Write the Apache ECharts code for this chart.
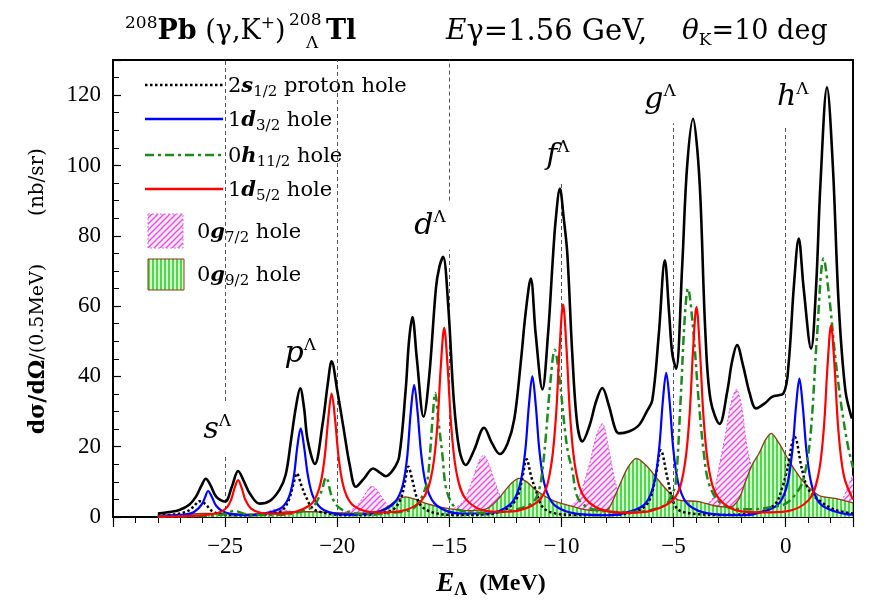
<!DOCTYPE html>
<html><head><meta charset="utf-8">
<script src="https://cdn.jsdelivr.net/npm/echarts@6/dist/echarts.min.js"></script>
<style>html,body{margin:0;padding:0;background:#fff}#c{width:869px;height:609px}</style>
</head><body><div id="c"></div>
<script>
// ---------- data (E_Lambda in MeV, cross section in nb/sr per 0.5 MeV) ----------
const xTickValues = [-25, -20, -15, -10, -5, 0];
const yTickValues = [0, 20, 40, 60, 80, 100, 120];

const totalCurve = [[-28.0,1.0],[-27.5,1.4],[-27.04,2.0],[-26.6,3.5],[-26.3,5.8],[-26.05,9.0],[-25.86,10.9],[-25.65,9.0],[-25.4,5.8],[-25.0,4.4],[-24.7,8.6],[-24.42,13.1],[-24.15,10.0],[-23.9,6.7],[-23.47,3.8],[-23.0,4.6],[-22.58,7.7],[-22.3,12],[-22.06,21.9],[-21.85,31],[-21.65,36.6],[-21.48,31],[-21.32,21.9],[-21.0,15.1],[-20.65,26.6],[-20.42,38],[-20.25,44.3],[-20.0,36],[-19.73,25.7],[-19.43,14.3],[-19.17,8.6],[-18.8,11],[-18.4,13.8],[-18.1,12.6],[-17.83,11.6],[-17.5,13.5],[-17.24,17.1],[-16.95,36],[-16.8,50],[-16.65,56.9],[-16.45,45],[-16.15,28.5],[-15.9,40],[-15.6,65],[-15.45,71],[-15.28,74.0],[-15.05,60],[-14.8,33],[-14.55,19],[-14.27,14.8],[-13.9,19],[-13.45,25.4],[-13.1,21],[-12.75,17.9],[-12.4,21],[-12.1,28],[-11.8,45],[-11.6,58],[-11.37,67.8],[-11.15,52],[-10.85,36.3],[-10.6,52],[-10.4,72],[-10.26,84.4],[-10.07,93.4],[-9.9,85],[-9.74,74.9],[-9.52,46.5],[-9.3,26.6],[-9.07,21.5],[-8.75,26],[-8.45,33],[-8.18,36.7],[-7.9,32],[-7.6,25],[-7.44,23.8],[-7.0,24.3],[-6.55,26.1],[-6.2,30],[-5.95,33.2],[-5.66,52],[-5.39,73.0],[-5.2,58],[-5.06,46.5],[-4.89,42.2],[-4.62,71],[-4.4,99.5],[-4.13,113.3],[-3.95,105],[-3.8,90],[-3.58,52],[-3.35,33.2],[-2.95,26.5],[-2.6,36],[-2.4,44],[-2.17,48.9],[-1.9,43],[-1.6,35],[-1.32,30.9],[-0.9,32.5],[-0.61,34.2],[-0.09,35.3],[0.13,43.7],[0.36,65.4],[0.58,79.2],[0.8,65],[1.13,47.9],[1.35,65],[1.55,95],[1.84,122.2],[2.1,100],[2.36,60.7],[2.66,36],[2.95,28]];

const proton2s = [[-28,0.4],[-27.2,0.8],[-26.7,1.6],[-26.4,3.0],[-26.15,4.5],[-25.9,3.8],[-25.6,1.8],[-25.2,0.8],[-24.5,0.5],[-23.5,0.6],[-22.8,1.1],[-22.43,2.0],[-22.15,5.0],[-21.95,9.5],[-21.8,12.4],[-21.6,9.0],[-21.4,5.8],[-21.1,2.5],[-20.6,1.2],[-19.8,0.6],[-18.8,0.6],[-17.9,1.2],[-17.45,2.4],[-17.15,5.5],[-16.98,10],[-16.83,14.3],[-16.65,10.5],[-16.45,5.5],[-16.2,2.8],[-15.7,1.2],[-14.8,0.6],[-13.5,0.7],[-12.6,1.8],[-12.04,4.8],[-11.8,9.5],[-11.55,16.4],[-11.35,11.5],[-11.15,7.7],[-10.85,2.9],[-10.4,1.2],[-9.5,0.6],[-7.8,0.6],[-6.6,1.8],[-6.1,4.5],[-5.8,11.5],[-5.57,19.0],[-5.29,11.5],[-5.05,5.0],[-4.77,2.0],[-4.2,1.0],[-3.0,0.6],[-1.5,1.0],[-0.5,3.5],[-0.15,8.5],[0.06,13.4],[0.4,22.8],[0.73,13.4],[1.0,8.0],[1.47,4.8],[2.21,2.0],[3.0,1.0]];

const hole1d32 = [[-28,0.3],[-27,0.6],[-26.5,1.1],[-26.2,2.4],[-26.0,4.0],[-25.9,5.5],[-25.76,7.4],[-25.6,5.8],[-25.4,3.2],[-25.1,1.6],[-24.7,0.8],[-24,0.5],[-23.5,0.7],[-22.6,2.2],[-22.2,5.0],[-21.95,11],[-21.78,20],[-21.63,25.2],[-21.48,20],[-21.3,11.5],[-21.05,5.4],[-20.6,2.0],[-19.6,0.7],[-18.6,0.9],[-17.6,3.2],[-17.15,7.5],[-16.9,16],[-16.72,30],[-16.57,37.5],[-16.42,30],[-16.24,17],[-15.99,8],[-15.55,3.2],[-14.5,1.0],[-13.3,1.0],[-12.3,3.5],[-11.88,8.5],[-11.63,18],[-11.45,32],[-11.3,40],[-11.15,32],[-10.97,18],[-10.72,8.4],[-10.3,3.3],[-9.3,0.9],[-8.0,0.5],[-7.33,0.9],[-6.33,3.4],[-5.91,8.6],[-5.66,18.5],[-5.48,33],[-5.33,41],[-5.18,33],[-5.0,18.5],[-4.75,8.6],[-4.33,3.4],[-3.33,0.9],[-2.0,0.5],[-1.39,0.9],[-0.39,3.3],[0.03,8.3],[0.28,18],[0.46,31.5],[0.61,39.4],[0.76,31.5],[0.94,18],[1.19,8.3],[1.61,3.3],[2.61,0.9],[3.0,0.7]];

const hole0h112 = [[-28,0.1],[-26,0.3],[-25.0,0.8],[-24.75,1.5],[-24.55,1.8],[-24.3,1.2],[-23.8,0.6],[-23.0,0.6],[-22.0,1.0],[-21.1,2.9],[-20.71,7.2],[-20.5,11.3],[-20.24,5.8],[-19.95,2.8],[-19.5,1.4],[-18.6,0.8],[-17.6,1.2],[-16.6,2.5],[-16.05,8.6],[-15.87,17.6],[-15.75,28],[-15.63,35.3],[-15.5,28],[-15.31,17.6],[-15.16,8.6],[-14.9,4.0],[-14.57,2.0],[-13.6,1.2],[-12.3,1.8],[-11.3,4.0],[-11.0,7.7],[-10.85,13.4],[-10.7,22.8],[-10.5,38],[-10.3,47.6],[-10.1,40],[-9.85,25],[-9.7,18],[-9.52,13.4],[-9.3,5.8],[-8.9,3.0],[-8.3,1.8],[-7.0,1.4],[-6.0,2.0],[-5.36,3.5],[-5.1,6.0],[-4.91,9.6],[-4.69,33],[-4.5,57],[-4.36,65.0],[-4.15,55],[-3.88,33],[-3.65,18],[-3.43,9.6],[-3.0,4.5],[-2.4,2.5],[-1.5,2.2],[-0.5,3.0],[0.0,3.8],[0.5,7.0],[0.8,11],[1.1,23],[1.39,51],[1.69,73.5],[1.95,62],[2.2,46],[2.45,33],[2.75,21],[3.0,14]];

const hole1d52 = [[-28,0.1],[-26.4,0.3],[-25.42,1.0],[-25.0,2.2],[-24.75,4.6],[-24.57,8.4],[-24.42,10.5],[-24.27,8.4],[-24.09,4.8],[-23.84,2.4],[-23.42,1.2],[-22.5,0.9],[-21.25,3.2],[-20.83,7.6],[-20.58,16],[-20.4,28],[-20.25,35.1],[-20.1,28],[-19.92,16],[-19.67,7.5],[-19.25,3.1],[-18.25,1.3],[-17.23,1.6],[-16.23,4.8],[-15.81,11.5],[-15.56,24],[-15.38,43],[-15.23,53.8],[-15.08,43],[-14.9,24.5],[-14.65,11.6],[-14.23,4.8],[-13.23,1.6],[-12.5,1.5],[-11.93,1.8],[-10.93,5.2],[-10.51,12.8],[-10.26,27.4],[-10.08,48.4],[-9.93,60.5],[-9.78,48.4],[-9.6,27.4],[-9.35,12.8],[-8.93,5.2],[-7.93,1.6],[-7.0,1.2],[-5.98,1.8],[-4.98,5.2],[-4.56,12.7],[-4.31,27],[-4.13,47.8],[-3.98,59.8],[-3.83,47.8],[-3.65,27],[-3.4,12.7],[-2.98,5.2],[-1.98,1.6],[-1.0,1.3],[0.02,1.6],[1.02,4.8],[1.44,11.5],[1.69,24.5],[1.87,43.6],[2.02,54.5],[2.17,43.6],[2.35,24.5],[2.6,11.5],[3.0,5.0]];

const hole0g72 = [[-28,0.2],[-26,0.3],[-24.5,0.4],[-23.8,0.6],[-23.3,1.0],[-22.9,2.0],[-22.6,2.3],[-22.2,1.8],[-21.5,1.1],[-20.5,1.0],[-19.6,1.5],[-19.17,2.9],[-18.87,5.3],[-18.65,7.6],[-18.45,8.8],[-18.22,7.6],[-17.98,5.3],[-17.6,2.5],[-17.0,1.8],[-16.0,1.5],[-15.0,2.0],[-14.6,3.2],[-14.34,4.8],[-13.97,10.5],[-13.7,15.5],[-13.48,17.6],[-13.25,15.2],[-13.0,10.5],[-12.64,4.8],[-12.2,2.6],[-11.5,2.0],[-10.5,2.0],[-9.6,3.0],[-9.22,5.8],[-8.78,14.3],[-8.45,23],[-8.18,26.6],[-7.88,19],[-7.59,9.6],[-7.29,4.8],[-6.8,2.6],[-5.5,2.0],[-4.5,2.5],[-3.9,3.4],[-3.6,3.6],[-3.28,5],[-2.98,14],[-2.7,23],[-2.45,32],[-2.2,36.3],[-1.95,31],[-1.8,23],[-1.5,13.4],[-1.06,5.8],[-0.46,2.0],[0.5,1.5],[1.5,2.0],[2.1,3.0],[2.5,4.8],[2.8,9],[3.0,12]];

const hole0g92 = [[-28,0.3],[-27,0.6],[-26,1.0],[-25,1.0],[-24,0.8],[-23,1.0],[-22,1.5],[-21,1.5],[-20,1.2],[-19,1.0],[-18.2,1.6],[-17.76,2.9],[-17.4,4.6],[-16.97,5.7],[-16.5,5.0],[-16.05,3.9],[-15.16,2.5],[-14.2,1.8],[-13.6,2.0],[-13.23,2.7],[-12.86,4.8],[-12.49,7.7],[-12.2,9.8],[-11.9,11.0],[-11.55,10.0],[-11.15,7.7],[-10.41,4.8],[-9.52,3.0],[-8.6,1.8],[-8.1,1.8],[-7.88,2.5],[-7.44,8.6],[-7.05,14],[-6.65,16.7],[-6.2,14.5],[-5.8,11.5],[-5.36,8.1],[-4.77,4.8],[-3.88,4.4],[-3.2,3.2],[-2.5,2.8],[-2.1,5],[-1.8,10],[-1.5,14.8],[-1.2,18],[-0.9,22],[-0.65,23.8],[-0.3,21],[0.13,16.2],[0.73,10.5],[1.47,6.2],[2.21,5.3],[3.0,4.0]];

// shell annotations (Lambda orbit) and the dashed reference lines (E, value ranges drawn)
const shellNames = ['s', 'p', 'd', 'f', 'g', 'h'];
const shellLabelAt = [[-25.35, 24.7], [-21.65, 46.3], [-15.86, 82.7], [-10.16, 102.6], [-5.61, 118.5], [0.31, 119.3]];
const shellLineE = [-25, -25, -20, -15, -15, -10, -5, 0];
const shellLineFrom = [0, 33, 0, 0, 90, 0, 0, 0];
const shellLineTo = [18, 130, 130, 76, 130, 95, 112, 111];

// ---------- styling ----------
const SERIF = '"Liberation Serif","DejaVu Serif",serif';
const WIDE = '"DejaVu Serif","Liberation Serif",serif';

function makePattern(kind) {
  const c = document.createElement('canvas');
  const g = c.getContext('2d');
  if (kind === 'pink') {
    c.width = 6; c.height = 6;
    g.fillStyle = '#fde8fd'; g.fillRect(0, 0, 6, 6);
    g.strokeStyle = '#e04ce0'; g.lineWidth = 1.3;
    g.beginPath();
    g.moveTo(-1, 7); g.lineTo(7, -1);
    g.moveTo(-4, 4); g.lineTo(4, -4);
    g.moveTo(2, 10); g.lineTo(10, 2);
    g.stroke();
  } else {
    c.width = 4; c.height = 4;
    g.fillStyle = '#d4f8cc'; g.fillRect(0, 0, 4, 4);
    g.fillStyle = '#4fd84f'; g.fillRect(0, 0, 2, 4);
  }
  return c;
}
const pinkFill = { image: makePattern('pink'), repeat: 'repeat' };
const greenFill = { image: makePattern('green'), repeat: 'repeat' };

const chart = echarts.init(document.getElementById('c'), null, { renderer: 'canvas' });

const legendRich = {
  n: { fontFamily: WIDE, fontSize: 21, color: '#000', lineHeight: 26 },
  bi: { fontFamily: WIDE, fontSize: 21, fontStyle: 'italic', fontWeight: 'bold', color: '#000', lineHeight: 26 },
  sub: { fontFamily: WIDE, fontSize: 15, color: '#000', lineHeight: 10, verticalAlign: 'bottom' }
};
function legendText(x, y, txt) {
  return { type: 'text', x: x, y: y, silent: true,
    style: { text: txt, rich: legendRich, verticalAlign: 'middle', align: 'left' } };
}
function legendLine(y, color, dash, width) {
  return { type: 'line', silent: true, shape: { x1: 145, y1: y, x2: 223, y2: y },
    style: { stroke: color, lineWidth: width, lineDash: dash } };
}

const titleRich = {
  sup: { fontFamily: WIDE, fontSize: 17, color: '#000', lineHeight: 14, verticalAlign: 'top' },
  b: { fontFamily: WIDE, fontSize: 27, fontWeight: 'bold', color: '#000', lineHeight: 34 },
  n: { fontFamily: WIDE, fontSize: 27, color: '#000', lineHeight: 34 },
  n29: { fontFamily: WIDE, fontSize: 29, color: '#000', lineHeight: 34 },
  it: { fontFamily: WIDE, fontSize: 28, fontStyle: 'italic', color: '#000', lineHeight: 34 },
  sub: { fontFamily: WIDE, fontSize: 17, color: '#000', lineHeight: 10, verticalAlign: 'bottom' },
  s17: { fontFamily: WIDE, fontSize: 17, color: '#000' }
};

const graphics = [
  // title
  { type: 'text', x: 125, y: 32, silent: true, style: { text: '{sup|208}{b|Pb}{n| (γ,K}{sup|+}{n|)}', rich: titleRich, verticalAlign: 'middle' } },
  { type: 'text', x: 289, y: 21, silent: true, style: { text: '{s17|208}', rich: titleRich, verticalAlign: 'middle' } },
  { type: 'text', x: 306, y: 44, silent: true, style: { text: '{s17|Λ}', rich: titleRich, verticalAlign: 'middle' } },
  { type: 'text', x: 326, y: 32, silent: true, style: { text: '{b|Tl}', rich: titleRich, verticalAlign: 'middle' } },
  { type: 'text', x: 446, y: 32, silent: true, style: { text: '{it|E}{n29|γ=1.56 GeV,}', rich: titleRich, verticalAlign: 'middle' } },
  { type: 'text', x: 682, y: 32, silent: true, style: { text: '{it|θ}{sub|K}{n|=10 deg}', rich: titleRich, verticalAlign: 'middle' } },
  // legend
  legendLine(85, '#000', [2.5, 2.5], 2.5),
  legendText(228, 87, '{n|2}{bi|s}{sub|1/2}{n| proton hole}'),
  legendLine(119, '#0000ff', null, 2.5),
  legendText(228, 121, '{n|1}{bi|d}{sub|3/2}{n| hole}'),
  legendLine(155, '#1e8a1e', [9, 4, 3, 4], 2.5),
  legendText(228, 157, '{n|0}{bi|h}{sub|11/2}{n| hole}'),
  legendLine(189, '#ff0000', null, 2.5),
  legendText(228, 191, '{n|1}{bi|d}{sub|5/2}{n| hole}'),
  { type: 'rect', silent: true, shape: { x: 148, y: 214, width: 35, height: 34 },
    style: { fill: pinkFill, stroke: '#e070e0', lineWidth: 1, lineDash: [2, 2] } },
  legendText(197, 233, '{n|0}{bi|g}{sub|7/2}{n| hole}'),
  { type: 'rect', silent: true, shape: { x: 148, y: 259, width: 36, height: 31 },
    style: { fill: greenFill, stroke: '#8b3a1a', lineWidth: 1 } },
  legendText(197, 276, '{n|0}{bi|g}{sub|9/2}{n| hole}'),
  // axis names
  { type: 'text', x: 38, y: 349, rotation: Math.PI / 2, silent: true,
    style: { text: '{b|dσ/dΩ}{s|/(0.5MeV)}', align: 'center', verticalAlign: 'middle',
      rich: { b: { fontFamily: WIDE, fontSize: 22, fontWeight: 'bold', color: '#000' },
              s: { fontFamily: WIDE, fontSize: 19, color: '#000' } } } },
  { type: 'text', x: 38, y: 182, rotation: Math.PI / 2, silent: true,
    style: { text: '(nb/sr)', align: 'center', verticalAlign: 'middle', font: '20px ' + WIDE, fill: '#000' } },
  { type: 'text', x: 491, y: 584, silent: true,
    style: { text: '{it|E}{sub|Λ}{n|  (MeV)}', align: 'center', verticalAlign: 'middle',
      rich: { it: { fontFamily: SERIF, fontSize: 27, fontStyle: 'italic', fontWeight: 'bold', color: '#000', lineHeight: 30 },
              sub: { fontFamily: SERIF, fontSize: 18, fontWeight: 'bold', color: '#000', lineHeight: 12, verticalAlign: 'bottom' },
              n: { fontFamily: SERIF, fontSize: 24, fontWeight: 'bold', color: '#000', lineHeight: 30 } } } }
];

function lineSeries(name, data, color, width, dash, z) {
  return { name: name, type: 'line', data: data, smooth: 0.35, symbol: 'none', z: z,
    lineStyle: { color: color, width: width, type: dash || 'solid' }, silent: true };
}

const shellLines = shellLineE.map(function (e, i) {
  return [{ coord: [e, shellLineFrom[i]] }, { coord: [e, shellLineTo[i]] }];
});

const option = {
  animation: false,
  backgroundColor: '#fff',
  grid: { left: 113, right: 16, top: 60, bottom: 92, show: true, borderColor: '#000', borderWidth: 2, backgroundColor: 'transparent' },
  xAxis: {
    type: 'value', min: -30, max: 3, interval: 5,
    axisLine: { show: true, onZero: false, lineStyle: { color: '#000', width: 2 } },
    axisTick: { show: true, inside: false, length: 10, lineStyle: { color: '#000', width: 1.2 } },
    minorTick: { show: true, splitNumber: 5, length: 6, lineStyle: { color: '#000', width: 1 } },
    splitLine: { show: false },
    axisLabel: { showMinLabel: false, showMaxLabel: false, margin: 18, fontFamily: SERIF, fontSize: 23, color: '#000',
      formatter: function (v) { return String(v).replace('-', '\u2212'); } }
  },
  yAxis: {
    type: 'value', min: 0, max: 130, interval: 20,
    axisLine: { show: true, onZero: false, lineStyle: { color: '#000', width: 2 } },
    axisTick: { show: true, inside: true, length: 8, lineStyle: { color: '#000', width: 1.2 } },
    minorTick: { show: true, splitNumber: 4, length: 6, lineStyle: { color: '#000', width: 1 } },
    splitLine: { show: false },
    axisLabel: { showMaxLabel: false, margin: 12, fontFamily: SERIF, fontSize: 23, color: '#000' }
  },
  series: [
    { name: 'g72', type: 'line', data: hole0g72, smooth: 0.3, symbol: 'none', z: 1, silent: true,
      lineStyle: { color: '#e050e0', width: 1, type: [2, 2] },
      areaStyle: { color: pinkFill, opacity: 1 } },
    { name: 'g92', type: 'line', data: hole0g92, smooth: 0.3, symbol: 'none', z: 2, silent: true,
      lineStyle: { color: '#8b3a1a', width: 1.3 },
      areaStyle: { color: greenFill, opacity: 1 } },
    { name: 'refs', type: 'line', data: [], z: 3, silent: true,
      markLine: { silent: true, symbol: 'none', label: { show: false },
        lineStyle: { color: '#555', width: 1, type: [4, 3] }, data: shellLines } },
    lineSeries('2s12', proton2s, '#000', 2.5, [2.5, 2.5], 4),
    lineSeries('1d32', hole1d32, '#0000ff', 2.2, null, 5),
    lineSeries('0h112', hole0h112, '#1e8a1e', 2.5, [9, 4, 3, 4], 6),
    lineSeries('1d52', hole1d52, '#ff0000', 2.2, null, 7),
    lineSeries('total', totalCurve, '#000', 2.6, null, 8),
    { name: 'shells', type: 'scatter', data: shellLabelAt, symbolSize: 0, z: 9, silent: true,
      itemStyle: { opacity: 1 },
      label: { show: true, position: 'inside', color: '#000', opacity: 1,
        formatter: function (p) { return '{l|' + shellNames[p.dataIndex] + '}{u|Λ}'; },
        rich: { l: { fontFamily: WIDE, fontSize: 30, fontStyle: 'italic', color: '#000', lineHeight: 34 },
                u: { fontFamily: WIDE, fontSize: 17, color: '#000', lineHeight: 20, verticalAlign: 'top' } } } }
  ],
  graphic: graphics
};
chart.setOption(option);
</script>
</body></html>
